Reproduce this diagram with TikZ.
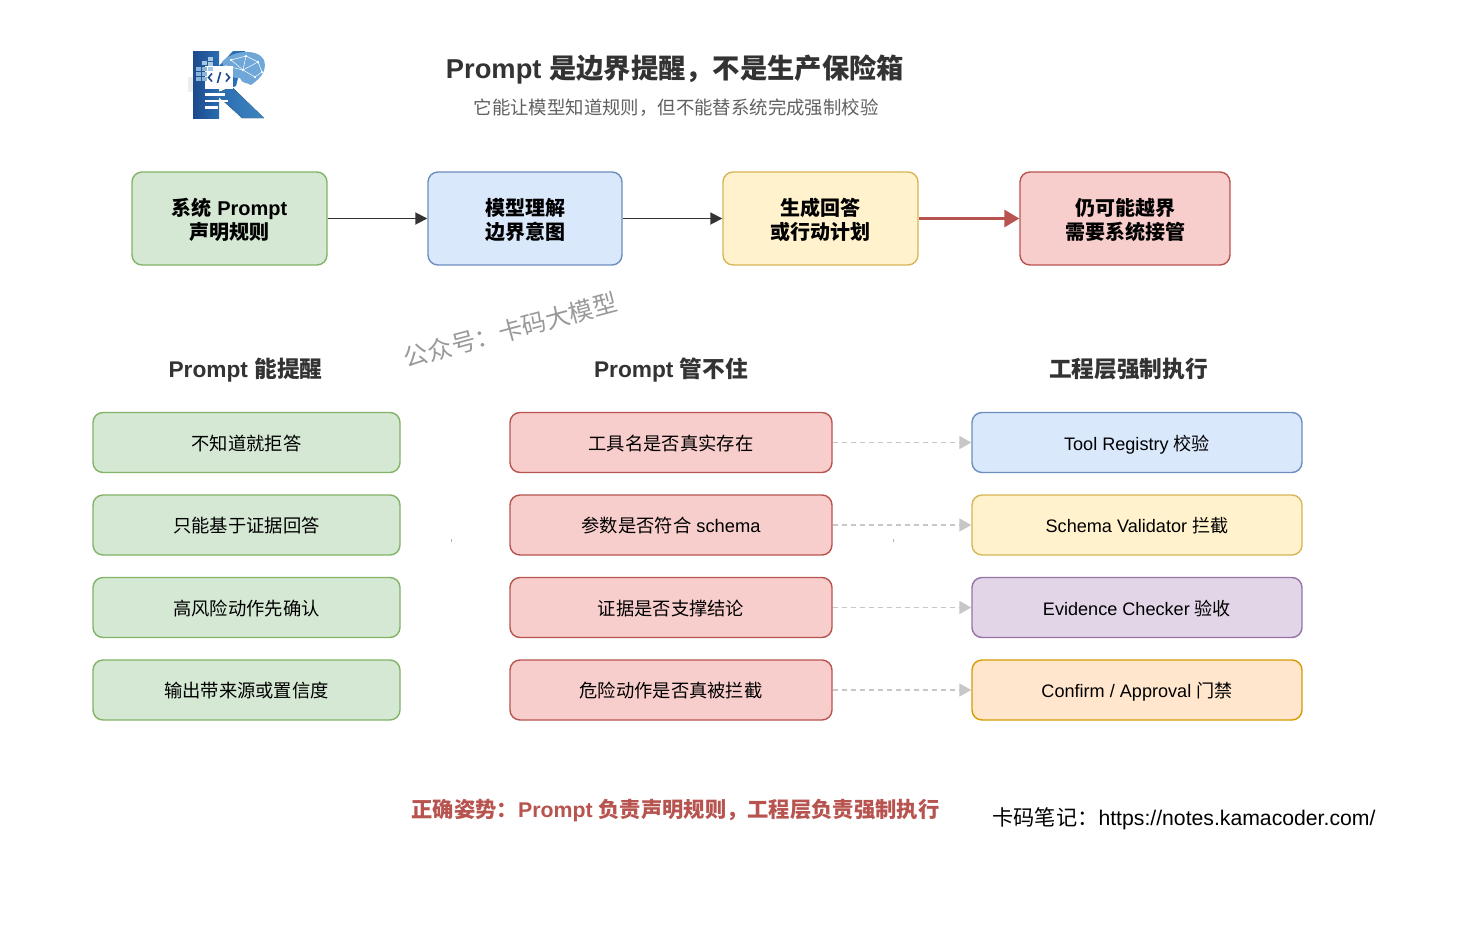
\documentclass[tikz,border=0pt]{standalone}
\usepackage{fontspec}
\setmainfont{Liberation Sans}
\newfontfamily\cjk{Noto Sans CJK SC}
\newcommand{\C}[1]{{\cjk #1}}
\newcommand{\fcm}{^^^^ff0c}
\newcommand{\fcn}{^^^^ff1a}
\newcommand{\Lw}[1]{\raisebox{0pt}[17pt][1.5pt]{#1}}
\newcommand{\Lt}[1]{\raisebox{0pt}[18pt][0.5pt]{#1}}
\usetikzlibrary{arrows.meta}
\definecolor{gF}{HTML}{D5E8D4}\definecolor{gD}{HTML}{82B366}
\definecolor{bF}{HTML}{DAE8FC}\definecolor{bD}{HTML}{6C8EBF}
\definecolor{yF}{HTML}{FFF2CC}\definecolor{yD}{HTML}{D6B656}
\definecolor{rF}{HTML}{F8CECC}\definecolor{rD}{HTML}{B85450}
\definecolor{pF}{HTML}{E1D5E7}\definecolor{pD}{HTML}{9673A6}
\definecolor{oF}{HTML}{FFE6CC}\definecolor{oD}{HTML}{D79B00}
\definecolor{txt}{HTML}{333333}
\definecolor{kDark}{HTML}{1C4A8C}\definecolor{kMid}{HTML}{2A6DB0}\definecolor{kLight}{HTML}{3F85C0}\definecolor{kBrain}{HTML}{6FA8D8}
\tikzset{
 x=1pt,y=-1pt,
 box/.style={draw=#1D,fill=#1F,line width=1.4pt,rounded corners=10pt,align=center,inner sep=0pt,text=black,font=\fontsize{18.3}{24}\selectfont},
 top/.style={box=#1,minimum height=93pt,font=\fontsize{20}{24}\selectfont\bfseries},
 lst/.style={box=#1,minimum height=60pt},
 lw/.style={minimum width=307pt},
 mw/.style={minimum width=322pt},
 rw/.style={minimum width=330pt,font=\fontsize{18.1}{24}\selectfont},
 head/.style={font=\fontsize{22.7}{26}\selectfont\bfseries,text=txt,inner sep=0pt},
 darrow/.style={draw=#1,-{Triangle[length=12pt,width=12pt,fill=#1]},line width=1.8pt},
 gapline/.style={draw=black!22,dash pattern=on 5pt off 4pt,line width=1.6pt,-{Triangle[length=12pt,width=13pt,fill=black!22]}},
}
\newcommand{\B}[1]{{\cjk\bfseries #1}}
\begin{document}
\begin{tikzpicture}
\useasboundingbox (0,0) rectangle (1484,932);
\fill[white] (0,0) rectangle (1484,932);
% logo
\fill[left color=kDark,right color=kMid] (193,51) rectangle (219,118);
\fill[left color=kMid,right color=kLight] (219,92) -- (232,87) -- (264,118) -- (242,118) -- (219,97) -- cycle;
\fill[kMid] (219,66) -- (233,51) -- (245,51) -- (236,86) -- (225,90) -- cycle;
\fill[kBrain] (222,62) .. controls (232,50) and (258,48) .. (264,60) .. controls (268,72) and (258,80) .. (251,85) .. controls (246,82) and (242,84) .. (240,78) .. controls (232,80) and (224,70) .. (222,62) -- cycle;
\foreach \a/\b/\c/\d in {231/60/246/56,246/56/258/62,231/60/243/70,243/70/258/62,243/70/255/77,258/62/262/72,246/56/243/70,226/66/243/70,255/77/262/72}{\draw[white,line width=.5pt] (\a,\b) -- (\c,\d);\fill[white] (\a,\b) circle (1pt);\fill[white] (\c,\d) circle (1pt);}
\fill[white] (205,66) rectangle (233,89);
\draw[kDark,line width=1.6pt] (212,73.5) -- (208.5,77.5) -- (212,81.5) (220.5,72) -- (217.5,83) (226,73.5) -- (229.5,77.5) -- (226,81.5);
\fill[white] (205,93) rectangle (225,96);
\fill[white] (205,99.5) rectangle (228,102);
\fill[white] (205,106) rectangle (218,108.5);
\foreach \x/\y in {196/67,196/72,196/77,202/67,202/72,202/77}{\fill[kLight!60!white] (\x,\y) rectangle +(5,3.5);}
\foreach \x/\y in {202/61,208/57,208/62,208/67}{\fill[kLight!45!white] (\x,\y) rectangle +(5,4);}
\fill[black!7] (188,77) rectangle (193,92);
% title
\node[inner sep=0pt,font=\fontsize{27.3}{32}\selectfont\bfseries,text=txt] (title) at (675,69) {Prompt \B{是边界提醒\fcm 不是生产保险箱}};
\node[inner sep=0pt,font=\fontsize{18.4}{22}\selectfont,text=black!62] (sub) at (676,108) {\C{它能让模型知道规则\fcm 但不能替系统完成强制校验}};
% top row
\node[top=g,minimum width=195pt] (t1) at (229.5,218.5) {\Lt{\B{系统} Prompt}\\\Lt{\B{声明规则}}};
\node[top=b,minimum width=194pt] (t2) at (525,218.5) {\Lt{\B{模型理解}}\\\Lt{\B{边界意图}}};
\node[top=y,minimum width=195pt] (t3) at (820.5,218.5) {\Lt{\B{生成回答}}\\\Lt{\B{或行动计划}}};
\node[top=r,minimum width=210pt] (t4) at (1125,218.5) {\Lt{\B{仍可能越界}}\\\Lt{\B{需要系统接管}}};
\draw[darrow=txt] (t1) -- (t2);
\draw[darrow=txt] (t2) -- (t3);
\draw[draw=rD,line width=3pt,-{Triangle[length=15pt,width=17pt,fill=rD]}] (t3) -- (t4);
% watermark
\node[rotate=15,inner sep=0pt,font=\fontsize{24.4}{28}\selectfont,text=black!40] (wm) at (510.5,330) {\C{公众号\fcn 卡码大模型}};
% headers
\node[head] (h1) at (245.5,370) {Prompt \B{能提醒}};
\node[head] (h2) at (671,370) {Prompt \B{管不住}};
\node[head] (h3) at (1128.5,369) {\B{工程层强制执行}};
% left
\node[lst=g,lw] (l1) at (246.5,442.5) {\Lw{\C{不知道就拒答}}};
\node[lst=g,lw] (l2) at (246.5,525) {\Lw{\C{只能基于证据回答}}};
\node[lst=g,lw] (l3) at (246.5,607.5) {\Lw{\C{高风险动作先确认}}};
\node[lst=g,lw] (l4) at (246.5,690) {\Lw{\C{输出带来源或置信度}}};
% middle
\node[lst=r,mw] (m1) at (671,442.5) {\Lw{\C{工具名是否真实存在}}};
\node[lst=r,mw] (m2) at (671,525) {\Lw{\C{参数是否符合} schema}};
\node[lst=r,mw] (m3) at (671,607.5) {\Lw{\C{证据是否支撑结论}}};
\node[lst=r,mw] (m4) at (671,690) {\Lw{\C{危险动作是否真被拦截}}};
% right
\node[lst=b,rw] (r1) at (1137,442.5) {\Lw{Tool Registry \C{校验}}};
\node[lst=y,rw] (r2) at (1137,525) {\Lw{Schema Validator \C{拦截}}};
\node[lst=p,rw] (r3) at (1137,607.5) {\Lw{Evidence Checker \C{验收}}};
\node[lst=o,rw] (r4) at (1137,690) {\Lw{Confirm / Approval \C{门禁}}};
\foreach \i in {1,2,3,4}{\draw[gapline] (m\i) -- (r\i);}
% specks
\fill[black!30] (451,539) rectangle (452,541.5);
\fill[black!30] (893,539) rectangle (894,541.5);
% footer
\node[inner sep=0pt,font=\fontsize{21.3}{25}\selectfont\bfseries,text=rD] (foot) at (675.5,811) {\B{正确姿势\fcn}Prompt \B{负责声明规则\fcm 工程层负责强制执行}};
\node[inner sep=0pt,font=\fontsize{21.2}{25}\selectfont,text=black] (url) at (1184,818.5) {\C{卡码笔记\fcn}https://notes.kamacoder.com/};
\end{tikzpicture}
\end{document}
